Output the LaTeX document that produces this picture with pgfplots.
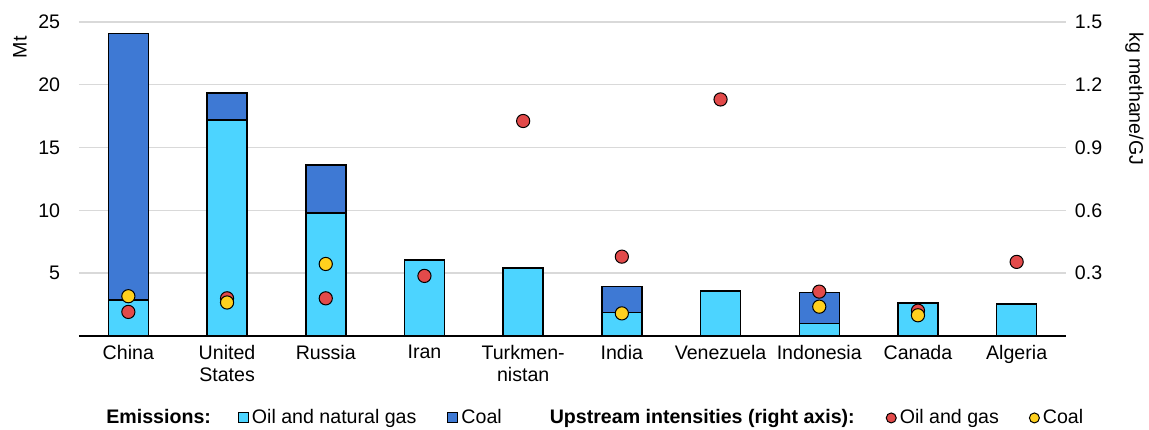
\documentclass[border=0pt]{standalone}
\usepackage{fontspec}
\setmainfont{Liberation Sans}
\usepackage{pgfplots}
\pgfplotsset{compat=1.18}
\definecolor{oilc}{RGB}{76,212,255}
\definecolor{coalc}{RGB}{62,121,212}
\definecolor{redc}{RGB}{226,74,74}
\definecolor{yelc}{RGB}{255,208,30}
\begin{document}
\fontsize{9.8}{11}\selectfont
\begin{tikzpicture}
\pgfplotsset{
  common/.style={
    scale only axis, width=493.5pt, height=157pt,
    xmin=-0.5, xmax=9.5, ymin=0,
    major tick length=0pt,
    /pgf/number format/assume math mode=true,
    tick label style={font=\fontsize{9.8}{11}\selectfont},
  }
}
\begin{axis}[common,
  ymax=25,
  xtick={0,...,9},
  xticklabels={China,{United\\States},Russia,Iran,{Turkmen-\\nistan},India,Venezuela,Indonesia,Canada,Algeria},
  x tick label style={align=center, yshift=-1pt},
  ytick={5,10,15,20,25},
  yticklabel style={xshift=-6pt},
  ymajorgrids, grid style={black!15, line width=0.7pt},
  axis x line*=bottom, axis y line*=left,
  y axis line style={draw=none},
  x axis line style={black, line width=0.8pt, -},
  ybar, bar width=20pt,
  clip=false,
]
\coordinate (SW) at (rel axis cs:0,0);
\coordinate (NE) at (rel axis cs:1,1);
\node[rotate=90, anchor=east, inner sep=0pt] at ([xshift=-29.5pt, yshift=-7pt]rel axis cs:0,1) {Mt};
\addplot[ybar, bar shift=0pt, fill=coalc, draw=black, line width=0.75pt] coordinates {(0,24.1) (1,19.35) (2,13.6) (5,3.93) (7,3.45) (8,2.68)};
\addplot[ybar, bar shift=0pt, fill=oilc, draw=black, line width=0.75pt] coordinates {(0,2.87) (1,17.2) (2,9.8) (3,6.05) (4,5.41) (5,1.86) (6,3.58) (7,1.01) (8,2.6) (9,2.55)};
\end{axis}
\begin{axis}[common,
  ymax=1.5,
  axis y line*=right, axis x line=none,
  y axis line style={draw=none},
  ytick={0.3,0.6,0.9,1.2,1.5},
  yticklabel style={xshift=1pt, /pgf/number format/.cd, fixed, fixed zerofill, precision=1},
  clip=false,
  legend columns=-1,
  legend style={draw=none, fill=none, at={(0.0243,-0.261)}, anchor=west,
    font=\fontsize{9.8}{11}\selectfont,
    nodes={inner sep=0pt},
    cells={anchor=west},
    /tikz/every odd column/.append style={column sep=1.5pt},
    /tikz/every even column/.append style={column sep=15pt},
    inner sep=0pt, row sep=0pt},
]
\node[rotate=-90, anchor=west, inner sep=0pt] at ([xshift=34.25pt, yshift=-5pt]rel axis cs:1,1) {kg methane/GJ};
\addlegendimage{legend image code/.code={}}
\addlegendentry{\textbf{Emissions:}\hspace*{-1.5pt}}
\addlegendimage{legend image code/.code={\draw[fill=oilc, draw=black, line width=0.5pt] (0pt,-2.5pt) rectangle (5pt,2.5pt);}}
\addlegendentry{Oil and natural gas\hspace*{0.5pt}}
\addlegendimage{legend image code/.code={\draw[fill=coalc, draw=black, line width=0.5pt] (0pt,-2.5pt) rectangle (5pt,2.5pt);}}
\addlegendentry{Coal\hspace*{7.5pt}}
\addlegendimage{legend image code/.code={}}
\addlegendentry{\textbf{Upstream intensities (right axis):}\hspace*{0.5pt}}
\addlegendimage{legend image code/.code={\draw[fill=redc, draw=black, line width=0.5pt] (2.5pt,0pt) circle (2.5pt);}}
\addlegendentry{Oil and gas}
\addlegendimage{legend image code/.code={\draw[fill=yelc, draw=black, line width=0.5pt] (2.5pt,0pt) circle (2.5pt);}}
\addlegendentry{Coal}
\addplot[only marks, mark=*, mark size=3.3pt, mark options={fill=redc, draw=black, line width=0.5pt}, forget plot]
  coordinates {(0,0.115) (1,0.18) (2,0.18) (3,0.287) (4,1.027) (5,0.379) (6,1.13) (7,0.212) (8,0.121) (9,0.354)};
\addplot[only marks, mark=*, mark size=3.3pt, mark options={fill=yelc, draw=black, line width=0.5pt}, forget plot]
  coordinates {(0,0.19) (1,0.16) (2,0.344) (5,0.108) (7,0.14) (8,0.099)};
\end{axis}
\pgfresetboundingbox
\path[use as bounding box] ([xshift=-39.5pt,yshift=-47pt]SW) rectangle ([xshift=41.5pt,yshift=11pt]NE);
\end{tikzpicture}
\end{document}
